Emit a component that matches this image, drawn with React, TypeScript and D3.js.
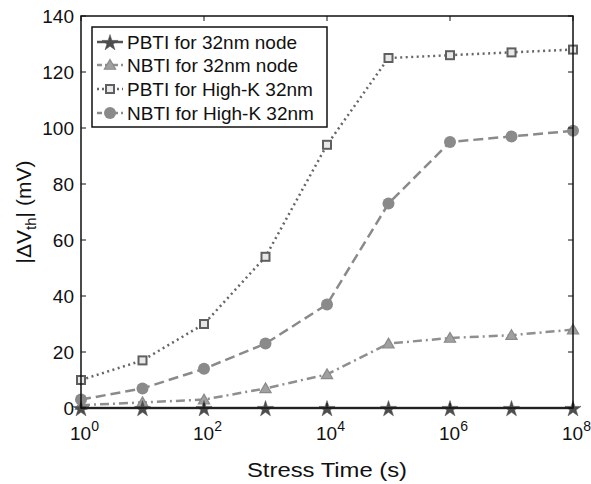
import React from 'react';
import * as d3 from 'd3';

const times = [1, 1e1, 1e2, 1e3, 1e4, 1e5, 1e6, 1e7, 1e8];
const pbti32 = [0, 0, 0, 0, 0, 0, 0, 0, 0];
const nbti32 = [1, 2, 3, 7, 12, 23, 25, 26, 28];
const pbtiHK = [10, 17, 30, 54, 94, 125, 126, 127, 128];
const nbtiHK = [3, 7, 14, 23, 37, 73, 95, 97, 99];
const xTicks = [0, 2, 4, 6, 8];
const yTicks = [0, 20, 40, 60, 80, 100, 120, 140];

const seriesNames = ['PBTI for 32nm node', 'NBTI for 32nm node', 'PBTI for High-K 32nm', 'NBTI for High-K 32nm'];

const dim = { l: 81, r: 573, t: 16, b: 408 };
const font = 'Liberation Sans, Arial, sans-serif';

const Marker = ({ kind, x, y }) => {
	if (kind === 'star') {
		const p = d3.symbol().type(d3.symbolStar).size(80)();
		return <path d={p} transform={`translate(${x},${y + 1})`} fill="#4d4d4d" stroke="#4d4d4d" strokeWidth={0.5} />;
	}
	if (kind === 'tri') {
		const p = d3.symbol().type(d3.symbolTriangle).size(55)();
		return <path d={p} transform={`translate(${x},${y + 1})`} fill="#a0a0a0" stroke="#8a8a8a" strokeWidth={1.2} />;
	}
	if (kind === 'square') {
		return <rect x={x - 4} y={y - 4} width={8} height={8} fill="#e8e8e8" stroke="#5f5f5f" strokeWidth={2} />;
	}
	return <circle cx={x} cy={y} r={6} fill="#8a8a8a" />;
};

const App = () => {
	const x = d3.scaleLog().domain([1, 1e8]).range([dim.l, dim.r]);
	const y = d3.scaleLinear().domain([0, 140]).range([dim.b, dim.t]);

	const series = [
		{ name: seriesNames[0], data: pbti32, color: '#555555', dash: null, kind: 'star' },
		{ name: seriesNames[1], data: nbti32, color: '#8f8f8f', dash: '9,4,2,4', kind: 'tri' },
		{ name: seriesNames[2], data: pbtiHK, color: '#666666', dash: '2,3.5', kind: 'square' },
		{ name: seriesNames[3], data: nbtiHK, color: '#8a8a8a', dash: '10,5', kind: 'circle' },
	];

	const line = d3
		.line<number>()
		.x((d, i) => x(times[i]))
		.y((d) => y(d));

	const drawOrder = [2, 3, 1, 0];
	const legendRows = [42, 65, 89, 113];

	return (
		<svg width={591} height={484} style={{ position: 'absolute', left: 0, top: 0 }}>
			<rect width={591} height={484} fill="white" />
			{drawOrder.map((si) => {
				const s = series[si];
				return (
					<g key={si}>
						<path d={line(s.data)} fill="none" stroke={s.color} strokeWidth={2.5} strokeDasharray={s.dash || undefined} />
						{s.data.map((d, i) => (
							<Marker key={i} kind={s.kind} x={x(times[i])} y={y(d)} />
						))}
					</g>
				);
			})}
			<rect x={dim.l} y={dim.t} width={dim.r - dim.l} height={dim.b - dim.t} fill="none" stroke="#111" strokeWidth={1.5} />
			{xTicks.map((p) => (
				<g key={p}>
					<line x1={x(10 ** p)} x2={x(10 ** p)} y1={dim.b} y2={dim.b - 5} stroke="#111" />
					<line x1={x(10 ** p)} x2={x(10 ** p)} y1={dim.t} y2={dim.t + 5} stroke="#111" />
					<text x={x(10 ** p) - 11} y={dim.b + 32} fontFamily={font} fontSize={19} fill="#111">
						10
						<tspan dy={-9} fontSize={14}>
							{p}
						</tspan>
					</text>
				</g>
			))}
			{yTicks.map((v) => (
				<g key={v}>
					<line x1={dim.l} x2={dim.l + 5} y1={y(v)} y2={y(v)} stroke="#111" />
					<line x1={dim.r} x2={dim.r - 5} y1={y(v)} y2={y(v)} stroke="#111" />
					<text x={dim.l - 7} y={y(v) + 7} textAnchor="end" fontFamily={font} fontSize={19} fill="#111">
						{v}
					</text>
				</g>
			))}
			<text x={247} y={477} textLength={160} lengthAdjust="spacingAndGlyphs" fontFamily={font} fontSize={20} fill="#111">
				Stress Time (s)
			</text>
			<text transform={`translate(31,${(dim.t + dim.b) / 2}) rotate(-90)`} textAnchor="middle" fontFamily={font} fontSize={21} fill="#111">
				|ΔV
				<tspan fontSize={15} dy={5}>
					th
				</tspan>
				<tspan dy={-5}>| (mV)</tspan>
			</text>
			<rect x={92} y={27} width={235} height={100} fill="white" stroke="#111" strokeWidth={1.5} />
			{series.map((s, i) => (
				<g key={i}>
					<line x1={97} x2={123} y1={legendRows[i]} y2={legendRows[i]} stroke={s.color} strokeWidth={2.5} strokeDasharray={s.dash ? (s.kind === 'square' ? '2,3' : '5,3') : undefined} />
					<Marker kind={s.kind} x={110} y={legendRows[i]} />
					<text x={127} y={legendRows[i] + 7} fontFamily={font} fontSize={19} fill="#111">
						{s.name}
					</text>
				</g>
			))}
		</svg>
	);
};

export default App;
